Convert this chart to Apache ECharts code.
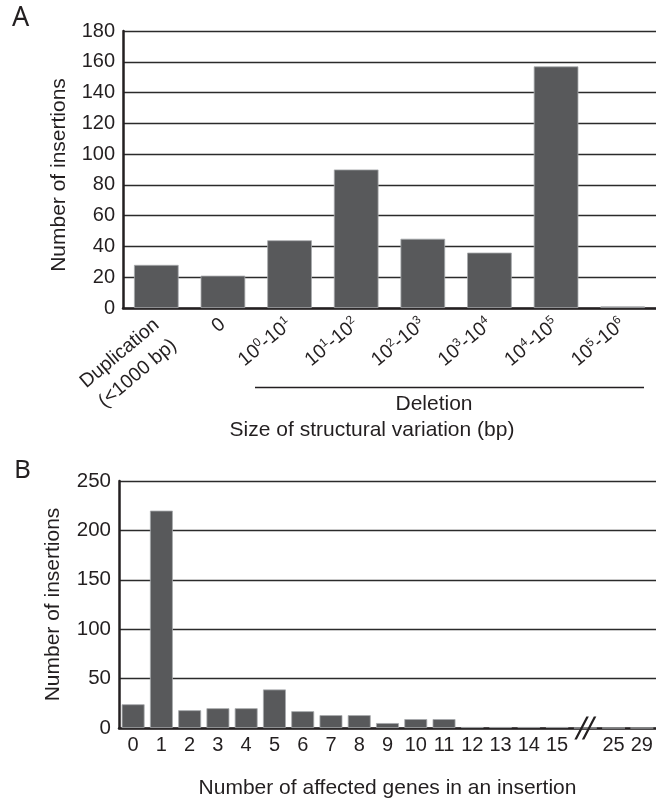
<!DOCTYPE html>
<html>
<head>
<meta charset="utf-8">
<script src="https://cdn.jsdelivr.net/npm/echarts@6/dist/echarts.min.js"></script>
<style>
html,body{margin:0;padding:0;background:#fff;}
#c{width:656px;height:805px;}
</style>
</head>
<body>
<div id="c"></div>
<script>
// ---- Panel A data ----
var categoriesA = ['Duplication\n(<1000 bp)', '0', '10^0-10^1', '10^1-10^2', '10^2-10^3', '10^3-10^4', '10^4-10^5', '10^5-10^6'];
var valuesA = [28, 21, 44, 90, 45, 36, 157, 1];
var yTicksA = [0, 20, 40, 60, 80, 100, 120, 140, 160, 180];

// ---- Panel B data ----
var categoriesB = ['0','1','2','3','4','5','6','7','8','9','10','11','12','13','14','15','//','25','29'];
var valuesB = [24, 220, 18, 20, 20, 39, 17, 13, 13, 5, 9, 9, 1, 1, 1, 1, 0, 0, 0];
var yTicksB = [0, 50, 100, 150, 200, 250];

var FONT = 'Liberation Sans, Arial, sans-serif';
var INK = '#231f20';
var BAR = '#58595b';

function supFmt(v) {
  if (v.indexOf('^') < 0) return v;
  var parts = v.split('-');
  return parts.map(function (p, i) {
    var m = p.split('^');
    return '{b|' + (i > 0 ? '-' : '') + m[0] + '}{s|' + m[1] + '}';
  }).join('');
}

var chart = echarts.init(document.getElementById('c'), null, {renderer: 'canvas'});

var catDataA = categoriesA.map(function (c, i) {
  return i === 0 ? {value: c, textStyle: {padding: [28, 0, 0, 0]}} : c;
});

var option = {
  animation: false,
  backgroundColor: '#fff',
  textStyle: {fontFamily: FONT, color: INK},
  grid: [
    {left: 123, top: 31, width: 542, height: 277},
    {left: 119, top: 481, width: 538, height: 247}
  ],
  xAxis: [
    {
      type: 'category', gridIndex: 0, data: catDataA,
      axisLine: {show: true, lineStyle: {color: INK, width: 2.5}},
      axisTick: {show: false},
      axisLabel: {
        interval: 0, rotate: 40, margin: 14, fontSize: 19.5, color: INK, fontFamily: FONT,
        lineHeight: 27,
        formatter: supFmt,
        rich: {
          b: {fontSize: 19.5, fontFamily: FONT, color: INK, lineHeight: 22},
          s: {fontSize: 12, fontFamily: FONT, color: INK, verticalAlign: 'top', lineHeight: 22}
        }
      },
      name: 'Size of structural variation (bp)',
      nameLocation: 'middle', nameGap: 112,
      nameTextStyle: {fontSize: 21, color: INK, fontFamily: FONT, padding: [0, 35, 0, 0]}
    },
    {
      type: 'category', gridIndex: 1, data: categoriesB,
      axisLine: {show: true, lineStyle: {color: INK, width: 2.5}},
      axisTick: {show: false},
      axisLabel: {
        interval: 0, margin: 7, fontSize: 20, color: INK, fontFamily: FONT,
        formatter: function (v) { return v === '//' ? '' : v; }
      },
      name: 'Number of affected genes in an insertion',
      nameLocation: 'middle', nameGap: 50,
      nameTextStyle: {fontSize: 21, color: INK, fontFamily: FONT}
    }
  ],
  yAxis: [
    {
      type: 'value', gridIndex: 0, min: yTicksA[0], max: yTicksA[yTicksA.length - 1], interval: yTicksA[1] - yTicksA[0],
      axisLine: {show: true, lineStyle: {color: INK, width: 2.5}},
      axisTick: {show: false},
      axisLabel: {margin: 8, fontSize: 20, color: INK, fontFamily: FONT},
      splitLine: {show: true, lineStyle: {color: '#2b2b2b', width: 1.4}},
      name: 'Number of insertions', nameLocation: 'middle', nameGap: 53,
      nameTextStyle: {fontSize: 21, color: INK, fontFamily: FONT, padding: [0, 11, 0, 0]}
    },
    {
      type: 'value', gridIndex: 1, min: yTicksB[0], max: yTicksB[yTicksB.length - 1], interval: yTicksB[1] - yTicksB[0],
      axisLine: {show: true, lineStyle: {color: INK, width: 2.5}},
      axisTick: {show: false},
      axisLabel: {margin: 8, fontSize: 20.5, color: INK, fontFamily: FONT},
      splitLine: {show: true, lineStyle: {color: '#2b2b2b', width: 1.4}},
      name: 'Number of insertions', nameLocation: 'middle', nameGap: 55,
      nameTextStyle: {fontSize: 21, color: INK, fontFamily: FONT}
    }
  ],
  series: [
    {
      type: 'bar', xAxisIndex: 0, yAxisIndex: 0, data: valuesA,
      barCategoryGap: '33%',
      itemStyle: {color: BAR, borderColor: '#a7a9ac', borderWidth: 0.8},
      emphasis: {disabled: true}
    },
    {
      type: 'bar', xAxisIndex: 1, yAxisIndex: 1, data: valuesB,
      barCategoryGap: '19%',
      itemStyle: {color: BAR, borderColor: '#a7a9ac', borderWidth: 0.8},
      emphasis: {disabled: true},
      markPoint: {
        silent: true,
        symbol: 'path://M0,23 L12,0 L14.5,0 L2.5,23 Z M7.5,23 L19.5,0 L22,0 L10,23 Z',
        symbolSize: [22, 23],
        itemStyle: {color: INK},
        label: {show: false},
        data: [{coord: ['//', 0]}]
      }
    }
  ],
  graphic: [
    {type: 'text', left: 12, top: 5, style: {text: 'A', fontSize: 27, fontFamily: 'Noto Sans, sans-serif', fill: INK}},
    {type: 'text', left: 14, top: 458, style: {text: 'B', fontSize: 26, fontFamily: 'Noto Sans, sans-serif', fill: INK}},
    {type: 'line', shape: {x1: 255, y1: 387.5, x2: 644, y2: 387.5}, style: {stroke: INK, lineWidth: 1.4}},
    {type: 'text', x: 434, y: 404, style: {text: 'Deletion', fontSize: 21, fontFamily: FONT, fill: INK, align: 'center', verticalAlign: 'middle'}}
  ]
};

chart.setOption(option);
</script>
</body>
</html>
